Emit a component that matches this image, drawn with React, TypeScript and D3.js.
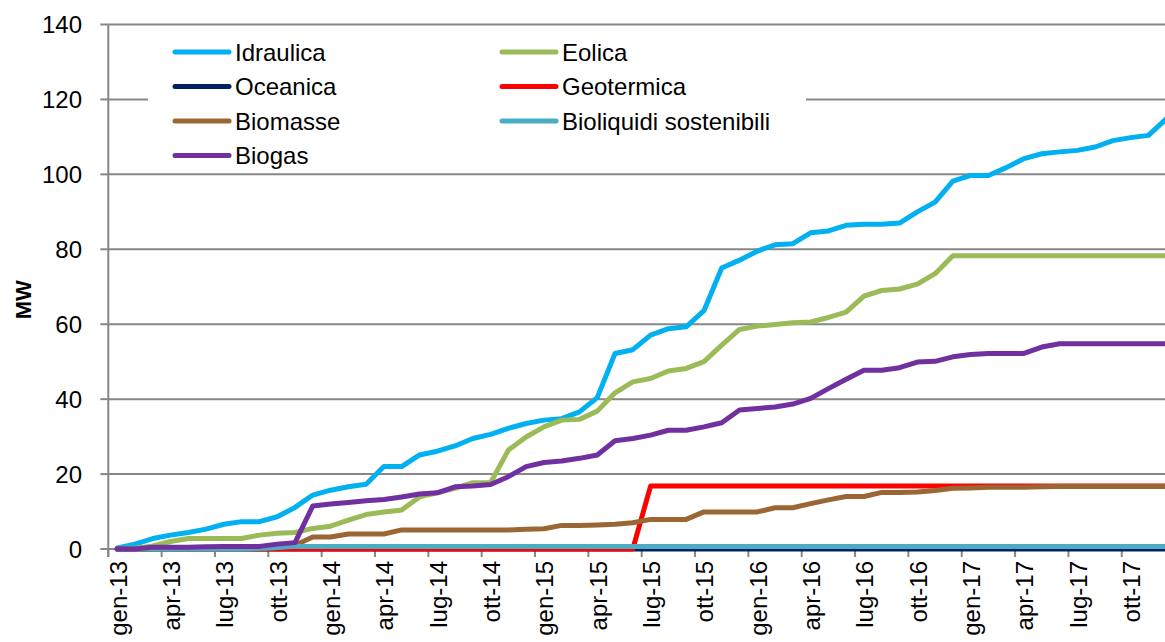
import React, { useEffect } from "react";
import * as d3 from "d3";

const MONTHS_IT = ["gen", "feb", "mar", "apr", "mag", "giu", "lug", "ago", "set", "ott", "nov", "dic"];
const YEARS = ["13", "14", "15", "16", "17"];
const months: string[] = [];
YEARS.forEach((y) => MONTHS_IT.forEach((m) => months.push(`${m}-${y}`)));

const yTicks = [0, 20, 40, 60, 80, 100, 120, 140];

const idraulica = [
  0.3, 1.3, 2.8, 3.7, 4.4, 5.3, 6.6, 7.3, 7.3, 8.6, 11.1, 14.4,
  15.7, 16.6, 17.3, 22.0, 22.0, 25.1, 26.1, 27.5, 29.5, 30.6, 32.2, 33.5,
  34.4, 34.8, 36.6, 40.4, 52.2, 53.2, 57.1, 58.8, 59.3, 63.6, 75.0, 77.1,
  79.5, 81.2, 81.5, 84.4, 84.9, 86.4, 86.7, 86.7, 87.0, 90.0, 92.6, 98.2,
  99.7, 99.7, 101.8, 104.2, 105.5, 106.0, 106.4, 107.3, 109.0, 109.8, 110.4, 114.8,
];
const eolica = [
  0.2, 0.2, 0.8, 2.0, 2.8, 2.8, 2.8, 2.8, 3.7, 4.2, 4.4, 5.5,
  6.1, 7.7, 9.2, 9.9, 10.4, 13.9, 15.0, 16.2, 17.7, 17.7, 26.4, 29.9,
  32.6, 34.4, 34.6, 36.8, 41.7, 44.6, 45.5, 47.5, 48.2, 50.0, 54.4, 58.6,
  59.5, 59.9, 60.4, 60.6, 61.8, 63.2, 67.5, 69.0, 69.4, 70.7, 73.5, 78.3,
  78.3, 78.3, 78.3, 78.3, 78.3, 78.3, 78.3, 78.3, 78.3, 78.3, 78.3, 78.3,
];
const oceanica = [
  0, 0, 0, 0, 0, 0, 0, 0, 0, 0, 0, 0,
  0, 0, 0, 0, 0, 0, 0, 0, 0, 0, 0, 0,
  0, 0, 0, 0, 0, 0, 0, 0, 0, 0, 0, 0,
  0, 0, 0, 0, 0, 0, 0, 0, 0, 0, 0, 0,
  0, 0, 0, 0, 0, 0, 0, 0, 0, 0, 0, 0,
];
const geotermica = [
  0, 0, 0, 0, 0, 0, 0, 0, 0, 0, 0, 0,
  0, 0, 0, 0, 0, 0, 0, 0, 0, 0, 0, 0,
  0, 0, 0, 0, 0, 0, 16.8, 16.8, 16.8, 16.8, 16.8, 16.8,
  16.8, 16.8, 16.8, 16.8, 16.8, 16.8, 16.8, 16.8, 16.8, 16.8, 16.8, 16.8,
  16.8, 16.8, 16.8, 16.8, 16.8, 16.8, 16.8, 16.8, 16.8, 16.8, 16.8, 16.8,
];
const biomasse = [
  0, 0, 0, 0, 0, 0, 0, 0, 0, 0.4, 1.0, 3.2,
  3.2, 4.0, 4.0, 4.0, 5.1, 5.1, 5.1, 5.1, 5.1, 5.1, 5.1, 5.3,
  5.4, 6.3, 6.3, 6.4, 6.6, 7.0, 7.9, 7.9, 7.9, 9.9, 9.9, 9.9,
  9.9, 11.0, 11.0, 12.1, 13.1, 14.0, 14.0, 15.1, 15.1, 15.2, 15.6, 16.2,
  16.3, 16.5, 16.5, 16.5, 16.6, 16.7, 16.7, 16.7, 16.7, 16.7, 16.7, 16.7,
];
const bioliquidi = [
  0, 0, 0, 0, 0, 0, 0, 0, 0.2, 0.4, 0.7, 0.7,
  0.7, 0.7, 0.7, 0.7, 0.7, 0.7, 0.7, 0.7, 0.7, 0.7, 0.7, 0.7,
  0.7, 0.7, 0.7, 0.7, 0.7, 0.7, 0.7, 0.7, 0.7, 0.7, 0.7, 0.7,
  0.7, 0.7, 0.7, 0.7, 0.7, 0.7, 0.7, 0.7, 0.7, 0.7, 0.7, 0.7,
  0.7, 0.7, 0.7, 0.7, 0.7, 0.7, 0.7, 0.7, 0.7, 0.7, 0.7, 0.7,
];
const biogas = [
  0, 0, 0.5, 0.5, 0.5, 0.6, 0.7, 0.7, 0.7, 1.3, 1.7, 11.5,
  12.0, 12.4, 12.9, 13.2, 13.9, 14.7, 15.0, 16.6, 16.8, 17.2, 19.3, 22.0,
  23.1, 23.5, 24.2, 25.1, 28.9, 29.5, 30.4, 31.7, 31.7, 32.6, 33.7, 37.1,
  37.5, 37.9, 38.7, 40.2, 42.8, 45.3, 47.7, 47.7, 48.4, 49.9, 50.1, 51.3,
  51.9, 52.2, 52.2, 52.2, 53.9, 54.8, 54.8, 54.8, 54.8, 54.8, 54.8, 54.8,
];

const seriesNames = ["Idraulica", "Eolica", "Oceanica", "Geotermica", "Biomasse", "Bioliquidi sostenibili", "Biogas"];
const seriesValues = [idraulica, eolica, oceanica, geotermica, biomasse, bioliquidi, biogas];
const seriesColors = ["#00B0F0", "#9BBB59", "#002060", "#FF0000", "#9A6634", "#4BACC6", "#7030A0"];

const W = 1165;
const H = 642;
const FONT = "'Liberation Sans', Arial, sans-serif";
const GRID = "#878787";

export default function App() {
  useEffect(() => {
    document.body.style.margin = "0";
  }, []);

  const x = d3.scaleBand<string>().domain(months).range([108.3, 108.3 + 60 * 17.78]);
  const cx = (m: string) => (x(m) as number) + x.bandwidth() / 2;
  const y = d3.scaleLinear().domain([0, 140]).range([549, 24.5]);
  const line = d3
    .line<number>()
    .x((_, i) => cx(months[i]))
    .y((v) => y(v));

  const x0 = 108.3;
  const xEnd = W + 20;

  const legendX = [175, 502];
  const legendY = [52, 86.5, 121, 155.5];

  return (
    <svg width={W} height={H} style={{ position: "absolute", left: 0, top: 0, background: "#fff" }}>
      {yTicks.filter((t) => t > 0).map((t) => (
        <line key={t} x1={x0} x2={xEnd} y1={y(t)} y2={y(t)} stroke={GRID} strokeWidth={2} />
      ))}
      {yTicks.map((t) => (
        <g key={"yt" + t}>
          <line x1={x0 - 8} x2={x0} y1={y(t)} y2={y(t)} stroke={GRID} strokeWidth={2} />
          <text x={82} y={y(t)} textAnchor="end" dominantBaseline="central" fontFamily={FONT} fontSize={24} fill="#000">
            {t}
          </text>
        </g>
      ))}
      <line x1={x0} x2={x0} y1={y(140)} y2={y(0) + 8} stroke={GRID} strokeWidth={2} />
      <line x1={x0} x2={xEnd} y1={y(0)} y2={y(0)} stroke={GRID} strokeWidth={2} />
      {months.map((m, i) =>
        i % 3 === 0 ? (
          <g key={"xt" + m}>
            <line x1={x(m) as number} x2={x(m) as number} y1={y(0)} y2={y(0) + 8} stroke={GRID} strokeWidth={2} />
            <text
              transform={`translate(${cx(m) + 1},561) rotate(-90)`}
              textAnchor="end"
              dominantBaseline="central"
              fontFamily={FONT}
              fontSize={24}
              fill="#000"
            >
              {m}
            </text>
          </g>
        ) : null
      )}
      <text
        transform={`translate(23,${(y(0) + y(140)) / 2 + 13}) rotate(-90)`}
        textAnchor="middle"
        dominantBaseline="central"
        fontFamily={FONT}
        fontWeight="bold"
        fontSize={22}
      >
        MW
      </text>
      <rect x={148} y={32} width={658} height={138} fill="#fff" />
      {seriesValues.map((vals, s) => (
        <path
          key={seriesNames[s]}
          d={line(vals) as string}
          fill="none"
          stroke={seriesColors[s]}
          strokeWidth={5}
          strokeLinejoin="round"
          strokeLinecap="round"
        />
      ))}
      {seriesNames.map((name, s) => {
        const col = s % 2;
        const row = Math.floor(s / 2);
        const lx = legendX[col];
        const ly = legendY[row];
        return (
          <g key={"lg" + name}>
            <line x1={lx} x2={lx + 54} y1={ly} y2={ly} stroke={seriesColors[s]} strokeWidth={5} strokeLinecap="round" />
            <text x={lx + 60} y={ly} dominantBaseline="central" fontFamily={FONT} fontSize={24} fill="#000">
              {name}
            </text>
          </g>
        );
      })}
    </svg>
  );
}
